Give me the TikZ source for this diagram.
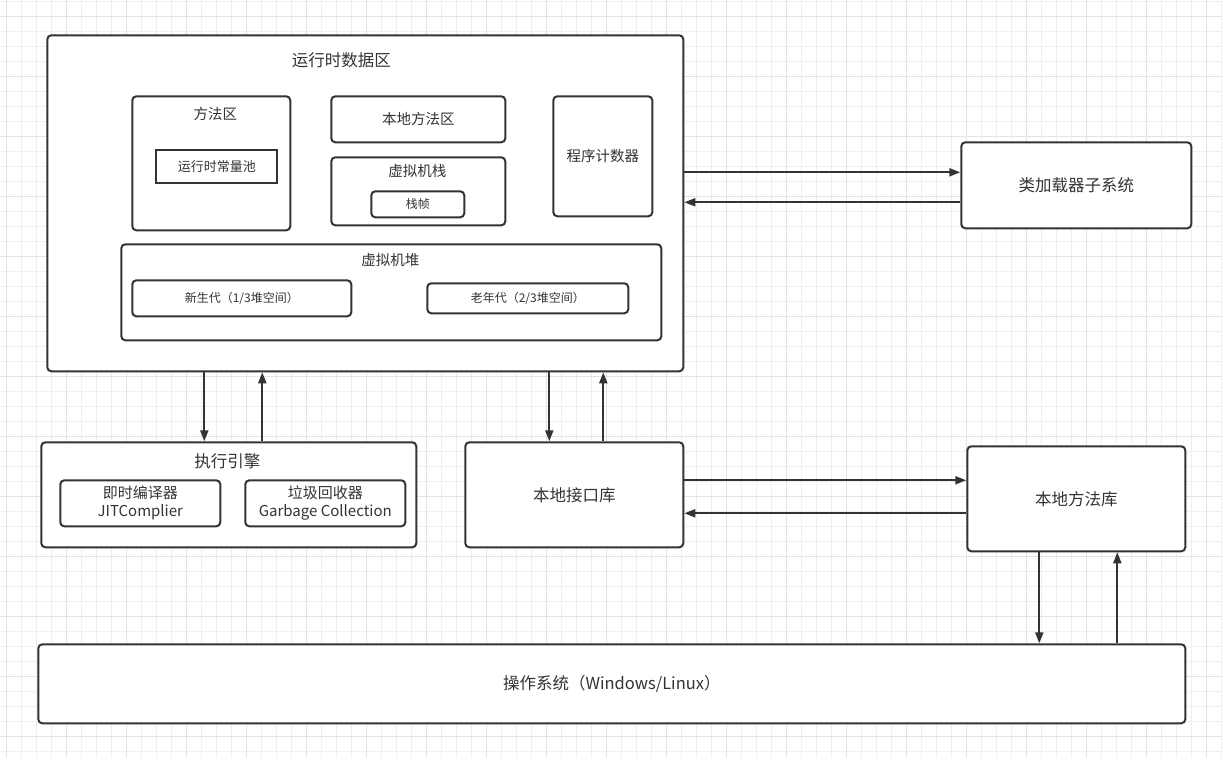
\documentclass[tikz,border=0pt]{standalone}
\usepackage{fontspec}
\setmainfont{Noto Sans CJK SC}
\usetikzlibrary{arrows.meta}
\definecolor{ink}{HTML}{333333}
\definecolor{gridc}{HTML}{EFEFEF}
\definecolor{gridm}{HTML}{E3E3E3}
\tikzset{
  box/.style={draw=ink, line width=2pt, rounded corners=4pt, fill=white, inner sep=0pt, anchor=north west, text=ink, align=center},
  sqbox/.style={box, rounded corners=0pt},
  ttl/.style={text=ink, inner sep=0pt, align=center},
  fL/.style={font=\fontsize{16.5}{19}\selectfont},
  fM/.style={font=\fontsize{14.5}{17}\selectfont},
  fS/.style={font=\fontsize{13}{16}\selectfont},
  fX/.style={font=\fontsize{12}{15}\selectfont},
  fJ/.style={font=\fontsize{15}{18}\selectfont},
  arr/.style={draw=ink, line width=2pt, -{Triangle[length=11pt,width=8pt]}},
  gl/.style={draw=gridc, line width=1pt},
  gm/.style={draw=gridm, line width=1pt},
}
\begin{document}
\begin{tikzpicture}[x=1pt,y=-1pt]
\useasboundingbox (0,0) rectangle (1222,758);
\fill[white] (0,0) rectangle (1222,758);
% grid
\foreach \x in {6.5,21.5,...,1222} \draw[gl] (\x,0) -- (\x,758);
\foreach \y in {1,16,...,758} \draw[gl] (0,\y) -- (1222,\y);
\foreach \x in {6.5,66.5,...,1222} \draw[gm] (\x,0) -- (\x,758);
\foreach \y in {16,76,...,758} \draw[gm] (0,\y) -- (1222,\y);

\begin{scope}[shift={(-0.7,-0.7)}]
% runtime data area
\node[box, minimum width=636pt, minimum height=336pt] (rda) at (47,35) {};
\node[ttl, fL] (rdat) at (342,61) {运行时数据区};

\node[box, minimum width=158pt, minimum height=134pt] (ma) at (132,96) {};
\node[ttl, fM] (mat) at (216,115) {方法区};
\node[sqbox, fS, minimum width=121pt, minimum height=33pt] (rcp) at (156,150) {运行时常量池};

\node[box, fM, minimum width=174pt, minimum height=46pt] (nm) at (331,96) {本地方法区};

\node[box, minimum width=174pt, minimum height=68pt] (vs) at (331,157) {};
\node[ttl, fM] (vst) at (418,172) {虚拟机栈};
\node[box, fX, minimum width=93pt, minimum height=26pt] (sf) at (371,191) {栈帧};

\node[box, fM, minimum width=99pt, minimum height=120pt] (pc) at (553,96) {程序计数器};

\node[box, minimum width=540pt, minimum height=96pt] (heap) at (121,244) {};
\node[ttl, fM] (heapt) at (391,261) {虚拟机堆};
\node[box, fX, minimum width=219pt, minimum height=36pt] (yg) at (132,280) {新生代（1/3堆空间）};
\node[box, fX, minimum width=201pt, minimum height=30pt] (og) at (427,283) {老年代（2/3堆空间）};

% class loader
\node[box, fL, minimum width=230pt, minimum height=86pt] (cl) at (961,142) {类加载器子系统};

% execution engine
\node[box, minimum width=375pt, minimum height=105pt] (exe) at (41,442) {};
\node[ttl, fL] (exet) at (228,462) {执行引擎};
\node[box, fJ, minimum width=160pt, minimum height=46pt] (jit) at (60,480) {即时编译器\\JITComplier};
\node[box, fJ, minimum width=160pt, minimum height=46pt] (gc) at (245,480) {垃圾回收器\\Garbage Collection};

\node[box, fL, minimum width=218pt, minimum height=105pt] (nil) at (465,442) {本地接口库};
\node[box, fL, minimum width=218pt, minimum height=105pt] (nml) at (967,446) {本地方法库};

\node[box, fL, minimum width=1147pt, minimum height=79pt] (os) at (38,644) {操作系统（Windows/Linux）};

% connectors
\coordinate (h1) at (0,173);
\coordinate (h2) at (0,203);
\coordinate (h3) at (0,481);
\coordinate (h4) at (0,514);
\coordinate (v1) at (205,0);
\coordinate (v2) at (263,0);
\coordinate (v3) at (550,0);
\coordinate (v4) at (604,0);
\coordinate (v5) at (1040,0);
\coordinate (v6) at (1118,0);

\draw[arr] (rda.east |- h1) -- (cl.west |- h1);
\draw[arr] (cl.west |- h2) -- (rda.east |- h2);
\draw[arr] (rda.south -| v1) -- (exe.north -| v1);
\draw[arr] (exe.north -| v2) -- (rda.south -| v2);
\draw[arr] (rda.south -| v3) -- (nil.north -| v3);
\draw[arr] (nil.north -| v4) -- (rda.south -| v4);
\draw[arr] (nil.east |- h3) -- (nml.west |- h3);
\draw[arr] (nml.west |- h4) -- (nil.east |- h4);
\draw[arr] (nml.south -| v5) -- (os.north -| v5);
\draw[arr] (os.north -| v6) -- (nml.south -| v6);
\end{scope}
\end{tikzpicture}
\end{document}
